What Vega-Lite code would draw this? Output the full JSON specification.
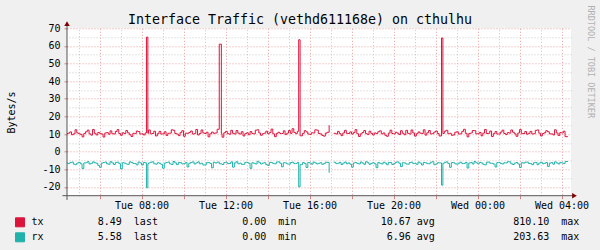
{
 "$schema": "https://vega.github.io/schema/vega-lite/v6.json",
 "width": 504,
 "height": 167.4,
 "autosize": {"type": "none"},
 "padding": {"left": 67, "top": 28.3, "right": 29, "bottom": 54.3},
 "background": "#F0F0F0",
 "view": {"fill": "#FFFFFF", "stroke": null},
 "config": {"font": "DejaVu Sans Mono"},
 "title": {"text": "Interface Traffic (vethd611168e) on cthulhu", "anchor": "middle", "frame": "group", "dx": -19, "dy": 37.5, "font": "DejaVu Sans Mono", "fontSize": 13.3, "fontWeight": "normal", "color": "#000000", "offset": 5, "baseline": "alphabetic"},
 "datasets": {
  "traffic": [
   {"t":"2024-01-02T04:27","tx":10.3,"rx":-6.4},
   {"t":"2024-01-02T04:30","tx":10.5,"rx":-6.8},{"t":"2024-01-02T04:35","tx":11.2,"rx":-6.2},{"t":"2024-01-02T04:40","tx":9.6,"rx":-5.9},{"t":"2024-01-02T04:45","tx":10.1,"rx":-7.1},{"t":"2024-01-02T04:50","tx":12.4,"rx":-7.4},{"t":"2024-01-02T04:55","tx":10.6,"rx":-6.5},
   {"t":"2024-01-02T05:00","tx":10.2,"rx":-6.1},{"t":"2024-01-02T05:05","tx":9.8,"rx":-6.9},{"t":"2024-01-02T05:10","tx":8.4,"rx":-9.6},{"t":"2024-01-02T05:15","tx":10.3,"rx":-6.4},{"t":"2024-01-02T05:20","tx":11.3,"rx":-6.3},{"t":"2024-01-02T05:25","tx":12.2,"rx":-5.7},{"t":"2024-01-02T05:30","tx":10.1,"rx":-7.0},{"t":"2024-01-02T05:35","tx":9.4,"rx":-6.6},{"t":"2024-01-02T05:40","tx":12.6,"rx":-5.8},{"t":"2024-01-02T05:45","tx":10.4,"rx":-6.3},{"t":"2024-01-02T05:50","tx":9.5,"rx":-6.6},{"t":"2024-01-02T05:55","tx":10.9,"rx":-7.8},
   {"t":"2024-01-02T06:00","tx":10.4,"rx":-8.9},{"t":"2024-01-02T06:05","tx":10.0,"rx":-6.5},{"t":"2024-01-02T06:10","tx":8.3,"rx":-6.2},{"t":"2024-01-02T06:15","tx":10.6,"rx":-5.9},{"t":"2024-01-02T06:20","tx":10.8,"rx":-6.9},{"t":"2024-01-02T06:25","tx":9.9,"rx":-7.2},{"t":"2024-01-02T06:30","tx":11.8,"rx":-5.7},{"t":"2024-01-02T06:35","tx":10.2,"rx":-6.4},{"t":"2024-01-02T06:40","tx":10.0,"rx":-7.3},{"t":"2024-01-02T06:45","tx":11.4,"rx":-6.1},{"t":"2024-01-02T06:50","tx":12.5,"rx":-6.0},{"t":"2024-01-02T06:55","tx":10.3,"rx":-6.8},
   {"t":"2024-01-02T07:00","tx":9.3,"rx":-9.8},{"t":"2024-01-02T07:05","tx":10.7,"rx":-6.3},{"t":"2024-01-02T07:10","tx":10.3,"rx":-6.5},{"t":"2024-01-02T07:15","tx":12.0,"rx":-7.0},{"t":"2024-01-02T07:20","tx":10.7,"rx":-7.2},{"t":"2024-01-02T07:25","tx":9.6,"rx":-5.8},{"t":"2024-01-02T07:30","tx":8.6,"rx":-6.1},{"t":"2024-01-02T07:35","tx":10.4,"rx":-6.7},{"t":"2024-01-02T07:40","tx":10.2,"rx":-6.8},{"t":"2024-01-02T07:45","tx":11.7,"rx":-7.5},{"t":"2024-01-02T07:50","tx":11.4,"rx":-5.9},{"t":"2024-01-02T07:55","tx":10.0,"rx":-6.4},
   {"t":"2024-01-02T08:00","tx":10.1,"rx":-7.6},{"t":"2024-01-02T08:05","tx":9.5,"rx":-6.2},{"t":"2024-01-02T08:10","tx":10.6,"rx":-6.3},{"t":"2024-01-02T08:14","tx":65.0,"rx":-20.5},{"t":"2024-01-02T08:18","tx":10.4,"rx":-7.0},{"t":"2024-01-02T08:20","tx":12.3,"rx":-6.4},{"t":"2024-01-02T08:25","tx":10.1,"rx":-6.0},{"t":"2024-01-02T08:30","tx":10.3,"rx":-5.8},{"t":"2024-01-02T08:35","tx":11.6,"rx":-6.9},{"t":"2024-01-02T08:40","tx":8.9,"rx":-7.1},{"t":"2024-01-02T08:45","tx":10.2,"rx":-6.3},{"t":"2024-01-02T08:50","tx":11.5,"rx":-6.6},{"t":"2024-01-02T08:55","tx":10.0,"rx":-7.2},
   {"t":"2024-01-02T09:00","tx":10.1,"rx":-9.4},{"t":"2024-01-02T09:05","tx":11.3,"rx":-6.5},{"t":"2024-01-02T09:10","tx":9.2,"rx":-6.2},{"t":"2024-01-02T09:15","tx":10.4,"rx":-5.9},{"t":"2024-01-02T09:20","tx":10.5,"rx":-6.9},{"t":"2024-01-02T09:25","tx":12.4,"rx":-7.3},{"t":"2024-01-02T09:30","tx":12.1,"rx":-5.6},{"t":"2024-01-02T09:35","tx":10.3,"rx":-6.4},{"t":"2024-01-02T09:40","tx":10.0,"rx":-7.4},{"t":"2024-01-02T09:45","tx":9.1,"rx":-6.1},{"t":"2024-01-02T09:50","tx":10.8,"rx":-6.3},{"t":"2024-01-02T09:55","tx":11.9,"rx":-7.0},
   {"t":"2024-01-02T10:00","tx":8.7,"rx":-6.8},{"t":"2024-01-02T10:05","tx":10.5,"rx":-6.2},{"t":"2024-01-02T10:10","tx":10.4,"rx":-8.7},{"t":"2024-01-02T10:15","tx":10.9,"rx":-6.6},{"t":"2024-01-02T10:20","tx":11.7,"rx":-6.1},{"t":"2024-01-02T10:25","tx":10.0,"rx":-5.8},{"t":"2024-01-02T10:30","tx":10.2,"rx":-7.0},{"t":"2024-01-02T10:35","tx":12.6,"rx":-6.4},{"t":"2024-01-02T10:40","tx":9.5,"rx":-5.8},{"t":"2024-01-02T10:45","tx":10.3,"rx":-6.9},{"t":"2024-01-02T10:50","tx":12.3,"rx":-6.6},{"t":"2024-01-02T10:55","tx":10.6,"rx":-7.6},
   {"t":"2024-01-02T11:00","tx":10.3,"rx":-7.5},{"t":"2024-01-02T11:05","tx":11.0,"rx":-6.3},{"t":"2024-01-02T11:10","tx":8.4,"rx":-6.2},{"t":"2024-01-02T11:15","tx":10.1,"rx":-6.7},{"t":"2024-01-02T11:20","tx":11.1,"rx":-9.2},{"t":"2024-01-02T11:25","tx":10.4,"rx":-6.0},{"t":"2024-01-02T11:30","tx":10.6,"rx":-6.4},{"t":"2024-01-02T11:36","tx":12.7,"rx":-5.9},{"t":"2024-01-02T11:42","tx":61.0,"rx":-6.9},{"t":"2024-01-02T11:48","tx":10.2,"rx":-6.9},{"t":"2024-01-02T11:50","tx":8.2,"rx":-7.3},{"t":"2024-01-02T11:55","tx":10.7,"rx":-6.2},
   {"t":"2024-01-02T12:00","tx":11.5,"rx":-6.0},{"t":"2024-01-02T12:05","tx":10.2,"rx":-6.8},{"t":"2024-01-02T12:10","tx":9.9,"rx":-6.7},{"t":"2024-01-02T12:15","tx":12.1,"rx":-5.8},{"t":"2024-01-02T12:20","tx":10.4,"rx":-8.8},{"t":"2024-01-02T12:25","tx":10.0,"rx":-6.4},{"t":"2024-01-02T12:30","tx":12.0,"rx":-5.7},{"t":"2024-01-02T12:35","tx":10.5,"rx":-6.9},{"t":"2024-01-02T12:40","tx":10.0,"rx":-6.5},{"t":"2024-01-02T12:45","tx":11.3,"rx":-7.2},{"t":"2024-01-02T12:50","tx":8.9,"rx":-7.2},{"t":"2024-01-02T12:55","tx":10.2,"rx":-6.1},
   {"t":"2024-01-02T13:00","tx":10.7,"rx":-6.1},{"t":"2024-01-02T13:05","tx":9.6,"rx":-6.6},{"t":"2024-01-02T13:10","tx":11.4,"rx":-9.5},{"t":"2024-01-02T13:15","tx":10.3,"rx":-6.3},{"t":"2024-01-02T13:20","tx":10.1,"rx":-6.6},{"t":"2024-01-02T13:25","tx":12.2,"rx":-7.0},{"t":"2024-01-02T13:30","tx":12.4,"rx":-5.5},{"t":"2024-01-02T13:35","tx":10.6,"rx":-6.2},{"t":"2024-01-02T13:40","tx":9.3,"rx":-7.0},{"t":"2024-01-02T13:45","tx":10.2,"rx":-6.5},{"t":"2024-01-02T13:50","tx":10.5,"rx":-6.3},{"t":"2024-01-02T13:55","tx":11.6,"rx":-7.4},
   {"t":"2024-01-02T14:00","tx":10.2,"rx":-7.8},{"t":"2024-01-02T14:05","tx":10.8,"rx":-6.1},{"t":"2024-01-02T14:10","tx":12.8,"rx":-6.2},{"t":"2024-01-02T14:15","tx":10.1,"rx":-6.8},{"t":"2024-01-02T14:20","tx":8.5,"rx":-6.9},{"t":"2024-01-02T14:25","tx":10.4,"rx":-5.9},{"t":"2024-01-02T14:30","tx":11.0,"rx":-5.8},{"t":"2024-01-02T14:35","tx":10.3,"rx":-6.6},{"t":"2024-01-02T14:40","tx":10.3,"rx":-8.6},{"t":"2024-01-02T14:45","tx":11.8,"rx":-6.3},{"t":"2024-01-02T14:50","tx":9.7,"rx":-6.4},{"t":"2024-01-02T14:55","tx":10.5,"rx":-7.0},
   {"t":"2024-01-02T15:00","tx":12.0,"rx":-7.1},{"t":"2024-01-02T15:05","tx":10.4,"rx":-6.2},{"t":"2024-01-02T15:10","tx":13.0,"rx":-6.0},{"t":"2024-01-02T15:15","tx":10.9,"rx":-6.8},{"t":"2024-01-02T15:20","tx":10.2,"rx":-6.7},{"t":"2024-01-02T15:25","tx":11.5,"rx":-6.1},{"t":"2024-01-02T15:29","tx":63.5,"rx":-20.0},{"t":"2024-01-02T15:33","tx":9.0,"rx":-7.4},{"t":"2024-01-02T15:40","tx":10.4,"rx":-6.2},{"t":"2024-01-02T15:45","tx":11.9,"rx":-6.7},{"t":"2024-01-02T15:50","tx":11.2,"rx":-9.0},{"t":"2024-01-02T15:55","tx":10.0,"rx":-6.1},
   {"t":"2024-01-02T16:00","tx":9.8,"rx":-6.5},{"t":"2024-01-02T16:05","tx":10.7,"rx":-7.1},{"t":"2024-01-02T16:10","tx":10.6,"rx":-5.9},{"t":"2024-01-02T16:15","tx":12.4,"rx":-6.4},{"t":"2024-01-02T16:20","tx":12.2,"rx":-7.0},{"t":"2024-01-02T16:25","tx":10.3,"rx":-6.6},{"t":"2024-01-02T16:30","tx":10.1,"rx":-6.3},{"t":"2024-01-02T16:35","tx":9.2,"rx":-7.2},{"t":"2024-01-02T16:40","tx":8.8,"rx":-6.8},{"t":"2024-01-02T16:45","tx":10.5,"rx":-6.0},{"t":"2024-01-02T16:50","tx":11.0,"rx":-6.1},{"t":"2024-01-02T16:56","tx":15.0,"rx":-12.0},{"t":"2024-01-02T16:58","tx":null,"rx":null},
   {"t":"2024-01-02T17:09","tx":10.4,"rx":-6.0},{"t":"2024-01-02T17:15","tx":10.0,"rx":-6.8},{"t":"2024-01-02T17:20","tx":11.5,"rx":-6.6},{"t":"2024-01-02T17:25","tx":10.2,"rx":-6.1},{"t":"2024-01-02T17:30","tx":9.1,"rx":-7.3},{"t":"2024-01-02T17:35","tx":10.6,"rx":-6.5},{"t":"2024-01-02T17:40","tx":12.1,"rx":-5.9},{"t":"2024-01-02T17:45","tx":10.4,"rx":-6.9},{"t":"2024-01-02T17:50","tx":10.3,"rx":-6.4},{"t":"2024-01-02T17:55","tx":11.2,"rx":-7.1},
   {"t":"2024-01-02T18:00","tx":10.0,"rx":-8.8},{"t":"2024-01-02T18:05","tx":10.8,"rx":-6.4},{"t":"2024-01-02T18:10","tx":12.5,"rx":-6.2},{"t":"2024-01-02T18:15","tx":10.2,"rx":-6.7},{"t":"2024-01-02T18:20","tx":8.6,"rx":-7.0},{"t":"2024-01-02T18:25","tx":10.1,"rx":-5.9},{"t":"2024-01-02T18:30","tx":10.9,"rx":-6.5},{"t":"2024-01-02T18:35","tx":12.0,"rx":-7.2},{"t":"2024-01-02T18:40","tx":10.2,"rx":-5.7},{"t":"2024-01-02T18:45","tx":9.8,"rx":-6.3},{"t":"2024-01-02T18:50","tx":11.6,"rx":-7.2},{"t":"2024-01-02T18:55","tx":10.4,"rx":-6.6},
   {"t":"2024-01-02T19:00","tx":9.5,"rx":-6.3},{"t":"2024-01-02T19:05","tx":10.6,"rx":-6.9},{"t":"2024-01-02T19:10","tx":10.3,"rx":-9.1},{"t":"2024-01-02T19:15","tx":11.3,"rx":-6.2},{"t":"2024-01-02T19:20","tx":11.8,"rx":-6.6},{"t":"2024-01-02T19:25","tx":10.1,"rx":-7.0},{"t":"2024-01-02T19:30","tx":10.6,"rx":-6.0},{"t":"2024-01-02T19:35","tx":9.3,"rx":-6.5},{"t":"2024-01-02T19:40","tx":8.7,"rx":-7.4},{"t":"2024-01-02T19:45","tx":10.5,"rx":-6.1},{"t":"2024-01-02T19:50","tx":12.2,"rx":-6.2},{"t":"2024-01-02T19:55","tx":10.3,"rx":-7.3},
   {"t":"2024-01-02T20:00","tx":10.1,"rx":-6.8},{"t":"2024-01-02T20:05","tx":11.0,"rx":-6.0},{"t":"2024-01-02T20:10","tx":10.5,"rx":-5.8},{"t":"2024-01-02T20:15","tx":9.7,"rx":-6.6},{"t":"2024-01-02T20:20","tx":11.9,"rx":-8.5},{"t":"2024-01-02T20:25","tx":10.4,"rx":-6.3},{"t":"2024-01-02T20:30","tx":9.6,"rx":-6.4},{"t":"2024-01-02T20:35","tx":12.1,"rx":-7.0},{"t":"2024-01-02T20:40","tx":10.4,"rx":-7.1},{"t":"2024-01-02T20:45","tx":10.0,"rx":-6.2},{"t":"2024-01-02T20:50","tx":12.3,"rx":-6.0},{"t":"2024-01-02T20:55","tx":10.6,"rx":-6.8},
   {"t":"2024-01-02T21:00","tx":8.8,"rx":-6.7},{"t":"2024-01-02T21:05","tx":10.2,"rx":-7.2},{"t":"2024-01-02T21:10","tx":11.2,"rx":-5.9},{"t":"2024-01-02T21:15","tx":10.5,"rx":-6.5},{"t":"2024-01-02T21:20","tx":10.3,"rx":-7.6},{"t":"2024-01-02T21:25","tx":12.4,"rx":-6.1},{"t":"2024-01-02T21:30","tx":9.4,"rx":-6.3},{"t":"2024-01-02T21:35","tx":10.7,"rx":-6.8},{"t":"2024-01-02T21:40","tx":12.0,"rx":-6.9},{"t":"2024-01-02T21:45","tx":10.1,"rx":-6.0},{"t":"2024-01-02T21:50","tx":10.2,"rx":-5.7},{"t":"2024-01-02T21:55","tx":11.1,"rx":-7.4},
   {"t":"2024-01-02T22:00","tx":11.7,"rx":-7.0},{"t":"2024-01-02T22:05","tx":10.3,"rx":-6.3},{"t":"2024-01-02T22:10","tx":8.9,"rx":-6.4},{"t":"2024-01-02T22:17","tx":64.5,"rx":-19.0},{"t":"2024-01-02T22:21","tx":10.3,"rx":-6.6},{"t":"2024-01-02T22:25","tx":11.6,"rx":-6.1},{"t":"2024-01-02T22:30","tx":12.1,"rx":-5.8},{"t":"2024-01-02T22:35","tx":10.2,"rx":-6.7},{"t":"2024-01-02T22:40","tx":10.4,"rx":-8.9},{"t":"2024-01-02T22:45","tx":9.3,"rx":-6.2},{"t":"2024-01-02T22:50","tx":9.5,"rx":-6.3},{"t":"2024-01-02T22:55","tx":11.0,"rx":-6.9},
   {"t":"2024-01-02T23:00","tx":11.3,"rx":-7.1},{"t":"2024-01-02T23:05","tx":10.0,"rx":-6.5},{"t":"2024-01-02T23:10","tx":10.1,"rx":-6.0},{"t":"2024-01-02T23:15","tx":11.5,"rx":-6.8},{"t":"2024-01-02T23:20","tx":12.7,"rx":-6.7},{"t":"2024-01-02T23:25","tx":10.4,"rx":-6.1},{"t":"2024-01-02T23:30","tx":8.4,"rx":-9.3},{"t":"2024-01-02T23:35","tx":10.3,"rx":-6.4},{"t":"2024-01-02T23:40","tx":10.6,"rx":-6.2},{"t":"2024-01-02T23:45","tx":12.0,"rx":-7.0},{"t":"2024-01-02T23:50","tx":11.9,"rx":-5.6},{"t":"2024-01-02T23:55","tx":10.1,"rx":-6.3},
   {"t":"2024-01-03T00:00","tx":10.2,"rx":-6.9},{"t":"2024-01-03T00:05","tx":10.9,"rx":-6.1},{"t":"2024-01-03T00:10","tx":9.0,"rx":-6.4},{"t":"2024-01-03T00:15","tx":10.5,"rx":-7.2},{"t":"2024-01-03T00:20","tx":12.6,"rx":-7.5},{"t":"2024-01-03T00:25","tx":10.3,"rx":-6.0},{"t":"2024-01-03T00:30","tx":10.4,"rx":-5.9},{"t":"2024-01-03T00:35","tx":11.7,"rx":-6.6},{"t":"2024-01-03T00:40","tx":8.6,"rx":-6.6},{"t":"2024-01-03T00:45","tx":10.2,"rx":-7.1},{"t":"2024-01-03T00:50","tx":11.4,"rx":-8.7},{"t":"2024-01-03T00:55","tx":10.0,"rx":-6.2},
   {"t":"2024-01-03T01:00","tx":10.0,"rx":-6.1},{"t":"2024-01-03T01:05","tx":11.1,"rx":-6.8},{"t":"2024-01-03T01:10","tx":12.2,"rx":-7.0},{"t":"2024-01-03T01:15","tx":10.3,"rx":-6.3},{"t":"2024-01-03T01:20","tx":9.7,"rx":-6.4},{"t":"2024-01-03T01:25","tx":10.8,"rx":-5.7},{"t":"2024-01-03T01:30","tx":10.5,"rx":-5.8},{"t":"2024-01-03T01:35","tx":12.3,"rx":-6.9},{"t":"2024-01-03T01:40","tx":11.0,"rx":-7.3},{"t":"2024-01-03T01:45","tx":10.1,"rx":-6.5},{"t":"2024-01-03T01:50","tx":8.7,"rx":-6.2},{"t":"2024-01-03T01:55","tx":10.6,"rx":-7.0},
   {"t":"2024-01-03T02:00","tx":12.5,"rx":-9.0},{"t":"2024-01-03T02:05","tx":10.2,"rx":-6.3},{"t":"2024-01-03T02:10","tx":10.3,"rx":-6.5},{"t":"2024-01-03T02:15","tx":11.4,"rx":-6.0},{"t":"2024-01-03T02:20","tx":9.9,"rx":-5.9},{"t":"2024-01-03T02:25","tx":10.4,"rx":-6.7},{"t":"2024-01-03T02:30","tx":11.5,"rx":-6.8},{"t":"2024-01-03T02:35","tx":10.0,"rx":-7.4},{"t":"2024-01-03T02:40","tx":10.2,"rx":-6.3},{"t":"2024-01-03T02:45","tx":12.1,"rx":-6.1},{"t":"2024-01-03T02:50","tx":12.3,"rx":-7.4},{"t":"2024-01-03T02:55","tx":10.5,"rx":-6.5},
   {"t":"2024-01-03T03:00","tx":8.9,"rx":-6.0},{"t":"2024-01-03T03:05","tx":10.3,"rx":-6.9},{"t":"2024-01-03T03:10","tx":10.7,"rx":-6.6},{"t":"2024-01-03T03:15","tx":11.9,"rx":-6.2},{"t":"2024-01-03T03:20","tx":11.3,"rx":-8.4},{"t":"2024-01-03T03:25","tx":10.1,"rx":-6.5},{"t":"2024-01-03T03:30","tx":10.1,"rx":-6.2},{"t":"2024-01-03T03:35","tx":9.5,"rx":-7.1},{"t":"2024-01-03T03:40","tx":12.4,"rx":-5.8},{"t":"2024-01-03T03:45","tx":10.6,"rx":-6.4},{"t":"2024-01-03T03:50","tx":9.2,"rx":-7.0},{"t":"2024-01-03T03:55","tx":10.8,"rx":-6.1},
   {"t":"2024-01-03T04:00","tx":10.6,"rx":-6.4},{"t":"2024-01-03T04:05","tx":11.6,"rx":-6.8},{"t":"2024-01-03T04:10","tx":8.5,"rx":-5.6},{"t":"2024-01-03T04:18","tx":8.5,"rx":-5.6}
  ]
 },
 "layer": [
  {
   "data": {"name": "traffic"},
   "transform": [{"fold": ["tx", "rx"], "as": ["series", "value"]}],
   "mark": {"type": "point", "opacity": 0},
   "encoding": {
    "x": {"field": "t", "type": "temporal",
     "scale": {"domain": [{"year":2024,"month":1,"date":2,"hours":4,"minutes":27},{"year":2024,"month":1,"date":3,"hours":4,"minutes":27}]},
     "axis": {"orient": "top", "values": [
       {"year":2024,"month":1,"date":2,"hours":5},{"year":2024,"month":1,"date":2,"hours":7},{"year":2024,"month":1,"date":2,"hours":9},{"year":2024,"month":1,"date":2,"hours":11},{"year":2024,"month":1,"date":2,"hours":13},{"year":2024,"month":1,"date":2,"hours":15},{"year":2024,"month":1,"date":2,"hours":17},{"year":2024,"month":1,"date":2,"hours":19},{"year":2024,"month":1,"date":2,"hours":21},{"year":2024,"month":1,"date":2,"hours":23},{"year":2024,"month":1,"date":3,"hours":1},{"year":2024,"month":1,"date":3,"hours":3}],
      "grid": true, "gridColor": "#C8C8C8", "gridDash": [1, 2], "ticks": false, "labels": false, "domain": false, "title": null}},
    "y": {"field": "value", "type": "quantitative",
     "scale": {"domain": [-25, 70], "nice": false, "zero": false},
     "axis": {"orient": "right", "values": [-15, -5, 5, 15, 25, 35, 45, 55, 65],
      "grid": true, "gridColor": "#C8C8C8", "gridDash": [1, 2], "ticks": false, "labels": false, "domain": false,
      "title": "RRDTOOL / TOBI OETIKER", "titleFont": "DejaVu Sans Mono", "titleFontSize": 8.5, "titleFontWeight": "normal", "titleColor": "#B0B0B0",
      "titleAngle": 90, "titleX": 19, "titleY": -23.3, "titleAlign": "left", "titleBaseline": "middle"}}
   }
  },
  {
   "data": {"name": "traffic"},
   "transform": [{"fold": ["tx", "rx"], "as": ["series", "value"]}],
   "mark": {"type": "line", "interpolate": "step-after", "strokeWidth": 1, "clip": true, "invalid": "break-paths-show-domains"},
   "encoding": {
    "x": {"field": "t", "type": "temporal",
     "scale": {"domain": [{"year":2024,"month":1,"date":2,"hours":4,"minutes":27},{"year":2024,"month":1,"date":3,"hours":4,"minutes":27}]},
     "axis": {"orient": "bottom", "values": [
       {"year":2024,"month":1,"date":2,"hours":6},{"year":2024,"month":1,"date":2,"hours":8},{"year":2024,"month":1,"date":2,"hours":10},{"year":2024,"month":1,"date":2,"hours":12},{"year":2024,"month":1,"date":2,"hours":14},{"year":2024,"month":1,"date":2,"hours":16},{"year":2024,"month":1,"date":2,"hours":18},{"year":2024,"month":1,"date":2,"hours":20},{"year":2024,"month":1,"date":2,"hours":22},{"year":2024,"month":1,"date":3,"hours":0},{"year":2024,"month":1,"date":3,"hours":2},{"year":2024,"month":1,"date":3,"hours":4}],
      "labelExpr": "hours(datum.value) % 4 == 0 ? timeFormat(datum.value, '%a %H:%M') : ''",
      "grid": true, "gridColor": "#E6A0A0", "gridDash": [1, 2], "domain": false,
      "ticks": true, "tickColor": "#D98080", "tickSize": 3,
      "labelFont": "DejaVu Sans Mono", "labelFontSize": 10, "labelColor": "#000000", "labelPadding": 2,
      "labelFlush": false, "labelOverlap": false, "title": null}},
    "y": {"field": "value", "type": "quantitative",
     "scale": {"domain": [-25, 70], "nice": false, "zero": false},
     "axis": {"orient": "left", "values": [-20, -10, 0, 10, 20, 30, 40, 50, 60, 70],
      "labelExpr": "'' + datum.value",
      "grid": true, "gridColor": "#E6A0A0", "gridDash": [1, 2], "domain": false,
      "ticks": true, "tickColor": "#D98080", "tickSize": 3, "labelPadding": 4,
      "labelFont": "DejaVu Sans Mono", "labelFontSize": 10, "labelColor": "#000000",
      "labelFlush": false, "labelOverlap": false,
      "title": "Bytes/s", "titleFont": "DejaVu Sans Mono", "titleFontSize": 10, "titleFontWeight": "normal", "titleColor": "#000000",
      "titleX": -53, "titleY": 83.7, "titleAngle": -90, "titleAlign": "center", "titleBaseline": "alphabetic"}},
    "color": {"field": "series", "type": "nominal",
     "scale": {"domain": ["tx", "rx"], "range": ["#DC143C", "#20B2AA"]},
     "legend": {"title": null, "orient": "none", "legendX": -52, "legendY": 189, "padding": 0,
      "symbolType": "square", "symbolSize": 81, "symbolStrokeWidth": 1,
      "labelFont": "DejaVu Sans Mono", "labelFontSize": 10, "labelColor": "#000000", "labelOffset": 6.5, "labelLimit": 800, "rowPadding": 1,
      "labelExpr": "datum.value == 'tx' ? 'tx\u00a0\u00a0\u00a0\u00a0\u00a0\u00a0\u00a0\u00a0\u00a08.49\u00a0\u00a0last\u00a0\u00a0\u00a0\u00a0\u00a0\u00a0\u00a0\u00a0\u00a0\u00a0\u00a0\u00a0\u00a0\u00a00.00\u00a0\u00a0min\u00a0\u00a0\u00a0\u00a0\u00a0\u00a0\u00a0\u00a0\u00a0\u00a0\u00a0\u00a0\u00a0\u00a010.67\u00a0avg\u00a0\u00a0\u00a0\u00a0\u00a0\u00a0\u00a0\u00a0\u00a0\u00a0\u00a0\u00a0\u00a0810.10\u00a0\u00a0max' : 'rx\u00a0\u00a0\u00a0\u00a0\u00a0\u00a0\u00a0\u00a0\u00a05.58\u00a0\u00a0last\u00a0\u00a0\u00a0\u00a0\u00a0\u00a0\u00a0\u00a0\u00a0\u00a0\u00a0\u00a0\u00a0\u00a00.00\u00a0\u00a0min\u00a0\u00a0\u00a0\u00a0\u00a0\u00a0\u00a0\u00a0\u00a0\u00a0\u00a0\u00a0\u00a0\u00a0\u00a06.96\u00a0avg\u00a0\u00a0\u00a0\u00a0\u00a0\u00a0\u00a0\u00a0\u00a0\u00a0\u00a0\u00a0\u00a0203.63\u00a0\u00a0max'",
      "encode": {"symbols": {"update": {"fill": {"scale": "color", "field": "value"}, "stroke": {"value": "#000000"}, "strokeWidth": {"value": 1}, "opacity": {"value": 1}}}}}}
   }
  },
  {
   "data": {"values": [{}]},
   "mark": {"type": "rule", "color": "#555555", "strokeWidth": 1},
   "encoding": {
    "x": {"datum": {"year":2024,"month":1,"date":2,"hours":4,"minutes":14}, "type": "temporal",
     "scale": {"domain": [{"year":2024,"month":1,"date":2,"hours":4,"minutes":27},{"year":2024,"month":1,"date":3,"hours":4,"minutes":27}]}, "axis": null},
    "x2": {"datum": {"year":2024,"month":1,"date":3,"hours":4,"minutes":36}},
    "y": {"datum": -25, "type": "quantitative", "scale": {"domain": [-25, 70], "nice": false, "zero": false}, "axis": null}
   }
  },
  {
   "data": {"values": [{}]},
   "mark": {"type": "rule", "color": "#555555", "strokeWidth": 1},
   "encoding": {
    "x": {"datum": {"year":2024,"month":1,"date":2,"hours":4,"minutes":27}, "type": "temporal",
     "scale": {"domain": [{"year":2024,"month":1,"date":2,"hours":4,"minutes":27},{"year":2024,"month":1,"date":3,"hours":4,"minutes":27}]}, "axis": null},
    "y": {"datum": -27.4, "type": "quantitative", "scale": {"domain": [-25, 70], "nice": false, "zero": false}, "axis": null},
    "y2": {"datum": 72}
   }
  },
  {
   "data": {"values": [{}]},
   "mark": {"type": "point", "shape": "triangle-up", "filled": true, "color": "#800000", "size": 30, "opacity": 1},
   "encoding": {
    "x": {"datum": {"year":2024,"month":1,"date":2,"hours":4,"minutes":27}, "type": "temporal",
     "scale": {"domain": [{"year":2024,"month":1,"date":2,"hours":4,"minutes":27},{"year":2024,"month":1,"date":3,"hours":4,"minutes":27}]}, "axis": null},
    "y": {"datum": 72.6, "type": "quantitative", "scale": {"domain": [-25, 70], "nice": false, "zero": false}, "axis": null}
   }
  },
  {
   "data": {"values": [{}]},
   "mark": {"type": "point", "shape": "triangle-right", "filled": true, "color": "#800000", "size": 30, "opacity": 1},
   "encoding": {
    "x": {"datum": {"year":2024,"month":1,"date":3,"hours":4,"minutes":37}, "type": "temporal",
     "scale": {"domain": [{"year":2024,"month":1,"date":2,"hours":4,"minutes":27},{"year":2024,"month":1,"date":3,"hours":4,"minutes":27}]}, "axis": null},
    "y": {"datum": -25, "type": "quantitative", "scale": {"domain": [-25, 70], "nice": false, "zero": false}, "axis": null}
   }
  }
 ],
 "resolve": {"axis": {"x": "independent", "y": "independent"}}
}
